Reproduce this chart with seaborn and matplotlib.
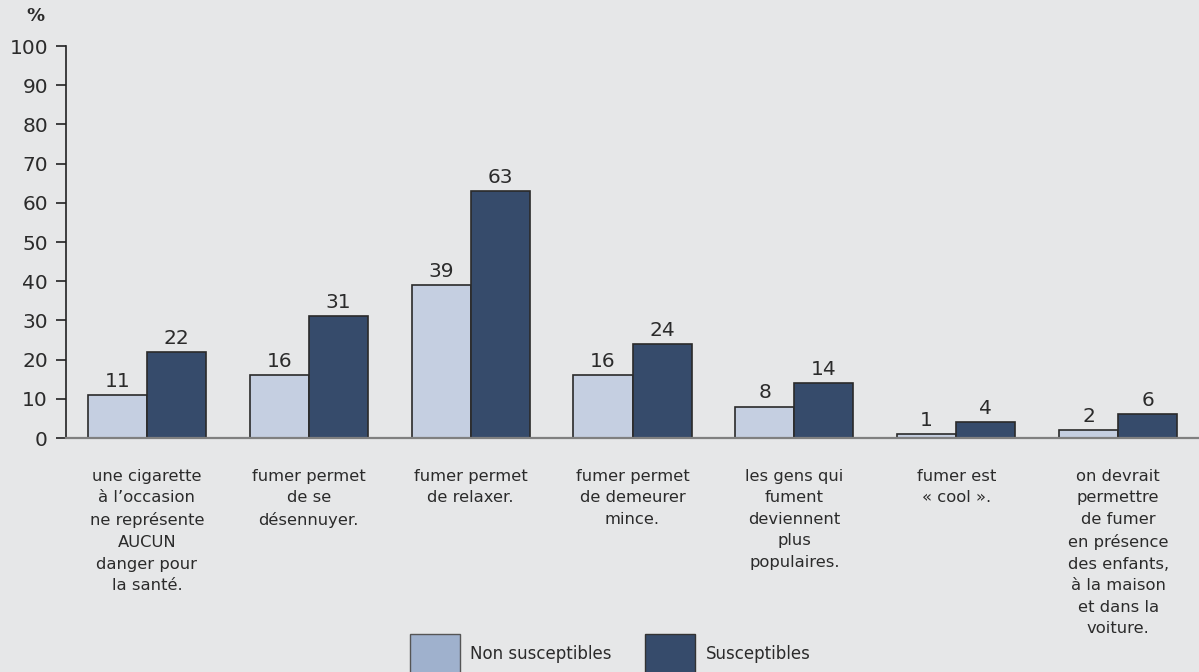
import pandas as pd
import matplotlib.pyplot as plt
import seaborn as sns
from matplotlib.patches import Patch

# Chart data
categories = [
    "une cigarette\nà l’occasion\nne représente\nAUCUN\ndanger pour\nla santé.",
    "fumer permet\nde se\ndésennuyer.",
    "fumer permet\nde relaxer.",
    "fumer permet\nde demeurer\nmince.",
    "les gens qui\nfument\ndeviennent\nplus\npopulaires.",
    "fumer est\n« cool ».",
    "on devrait\npermettre\nde fumer\nen présence\ndes enfants,\nà la maison\net dans la\nvoiture.",
]
groups = ["Non susceptibles", "Susceptibles"]
non_susceptibles = [11, 16, 39, 16, 8, 1, 2]
susceptibles = [22, 31, 63, 24, 14, 4, 6]

bg = "#e6e7e8"
light = "#c5cfe1"
dark = "#364b6b"
legend_light = "#9fb1cd"
text_color = "#2b2b2b"

df = pd.DataFrame({
    "cat": list(range(len(categories))) * 2,
    "group": [groups[0]] * len(categories) + [groups[1]] * len(categories),
    "value": non_susceptibles + susceptibles,
})

sns.set_style("white")
plt.rcParams["font.family"] = ["DejaVu Sans"]

fig = plt.figure(figsize=(11.99, 6.72), dpi=100, facecolor=bg)
ax = fig.add_axes([66 / 1199, 1 - 438 / 672, 1 - 66 / 1199, (438 - 46) / 672])
ax.set_facecolor(bg)

sns.barplot(data=df, x="cat", y="value", hue="group", palette=[light, dark],
            saturation=1, edgecolor="#2a2a2a", linewidth=1.2, width=0.73, gap=0,
            legend=False, ax=ax)

for cont in ax.containers:
    ax.bar_label(cont, fontsize=14.5, color=text_color, padding=3)

ax.set_ylim(0, 100)
ax.set_xlim(-0.5, len(categories) - 0.5)
ax.set_yticks(range(0, 101, 10))
ax.tick_params(axis="y", left=True, length=7, width=1.2, color="#222222",
               labelsize=14.5, labelcolor=text_color, pad=6)
ax.set_xticks(range(len(categories)))
ax.set_xticklabels(categories, fontsize=11.8, color=text_color, linespacing=1.55)
ax.tick_params(axis="x", length=0, pad=22)
ax.set_xlabel("")
ax.set_ylabel("")

for s in ["top", "right"]:
    ax.spines[s].set_visible(False)
ax.spines["left"].set_color("#222222")
ax.spines["left"].set_linewidth(1.2)
ax.spines["bottom"].set_color("#808080")
ax.spines["bottom"].set_linewidth(1.6)

fig.text(35 / 1199, 1 - 16 / 672, "%", fontsize=13, fontweight="bold",
         color=text_color, ha="center", va="center")

handles = [Patch(facecolor=legend_light, edgecolor="#555555", linewidth=1),
           Patch(facecolor=dark, edgecolor="#333333", linewidth=1)]
fig.legend(handles, groups, loc="upper center", bbox_to_anchor=(0.509, 1 - 634 / 672),
           ncol=2, frameon=False, fontsize=12, handlelength=3.0, handleheight=3.4,
           handletextpad=0.65, columnspacing=2.0, borderpad=0, borderaxespad=0,
           labelcolor=text_color)

fig.savefig("out.png", dpi=100, facecolor=bg)
